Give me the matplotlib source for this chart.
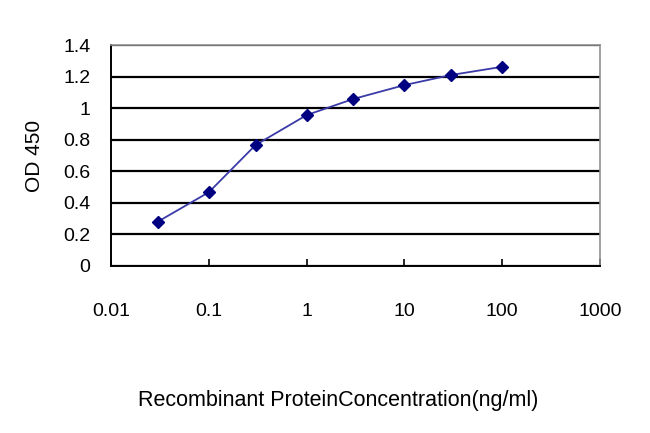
import matplotlib
matplotlib.use("Agg")
import matplotlib.pyplot as plt

# values
concentration = [0.03, 0.1, 0.3, 1, 3, 10, 30, 100]
od450 = [0.28, 0.467, 0.766, 0.956, 1.058, 1.146, 1.21, 1.262]

x_ticks = [0.01, 0.1, 1, 10, 100, 1000]
x_tick_labels = ["0.01", "0.1", "1", "10", "100", "1000"]
y_ticks = [0, 0.2, 0.4, 0.6, 0.8, 1, 1.2, 1.4]
y_tick_labels = ["0", "0.2", "0.4", "0.6", "0.8", "1", "1.2", "1.4"]

plt.rcParams["font.family"] = ["Liberation Sans", "DejaVu Sans"]

fig = plt.figure(figsize=(6.5, 4.33), dpi=100)
ax = fig.add_axes([0.171, 0.386, 0.752, 0.510])

ax.plot(
    concentration,
    od450,
    color="#3a3aa8",
    linewidth=1.3,
    marker="D",
    markersize=6.5,
    markerfacecolor="#000080",
    markeredgecolor="#000080",
    zorder=3,
)

ax.set_xscale("log")
ax.set_xlim(0.01, 1000)
ax.set_ylim(0, 1.4)

ax.set_xticks(x_ticks)
ax.set_xticklabels(x_tick_labels)
ax.minorticks_off()
ax.set_yticks(y_ticks)
ax.set_yticklabels(y_tick_labels)

ax.yaxis.grid(True, color="black", linewidth=1.6)
ax.set_axisbelow(True)

ax.tick_params(axis="x", direction="in", length=5, width=1.2, labelsize=14, pad=27)
ax.tick_params(axis="y", length=0, labelsize=14, pad=15)

for side in ("top", "right"):
    ax.spines[side].set_color("#909090")
    ax.spines[side].set_linewidth(1.2)
for side in ("left", "bottom"):
    ax.spines[side].set_color("black")
    ax.spines[side].set_linewidth(1.4)

ax.set_ylabel("OD 450", fontsize=15, labelpad=14)
ax.set_xlabel("Recombinant ProteinConcentration(ng/ml)", fontsize=15.5, labelpad=50)
# the label sits a bit left of the axes centre in the original
ax.xaxis.label.set_x(0.464)

fig.savefig("out.png", dpi=100)
plt.close(fig)
